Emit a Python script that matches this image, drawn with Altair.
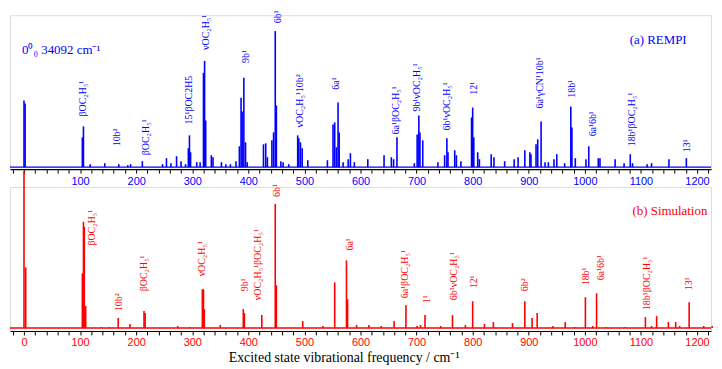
import altair as alt
import pandas as pd

# ---------------- data ----------------
# (a) REMPI spectrum: peak positions (cm-1) and intensities (arb. units)
rempi_pos = [0, 2, 104, 106, 118, 144, 169, 185, 190, 211, 247, 254, 262, 272, 280, 288,
             293, 295, 297, 308, 314, 320, 322, 324, 334, 337, 352, 360, 368, 378, 384,
             387, 389, 392, 395, 398, 427, 431, 434, 442, 445, 448, 450, 458, 462, 472,
             488, 490, 493, 496, 506, 541, 551, 554, 557, 560, 562, 569, 578, 582, 589,
             613, 642, 655, 659, 665, 696, 701, 704, 706, 711, 738, 750, 754, 756, 768,
             771, 779, 798, 800, 802, 809, 812, 833, 838, 857, 874, 881, 893, 902, 904,
             913, 916, 922, 929, 935, 945, 950, 964, 975, 977, 983, 1002, 1007, 1024,
             1027, 1054, 1070, 1081, 1085, 1111, 1119, 1150, 1181]
rempi_int = [67, 64, 30, 41, 3, 4, 3, 2, 3, 6, 3, 9, 4, 11, 6, 3,
             19, 32, 15, 5, 5, 95, 107, 47, 12, 10, 5, 3, 3, 6, 21,
             70, 56, 90, 25, 5, 23, 24, 10, 27, 35, 137, 62, 6, 5, 3,
             32, 29, 25, 19, 7, 7, 43, 45, 20, 65, 35, 5, 8, 14, 5,
             8, 12, 10, 8, 30, 4, 33, 52, 35, 27, 5, 12, 29, 15, 17,
             12, 6, 50, 60, 30, 15, 8, 13, 10, 6, 8, 10, 17, 15, 13,
             23, 28, 46, 5, 5, 8, 13, 4, 61, 40, 9, 8, 21, 9,
             9, 8, 4, 13, 4, 3, 4, 8, 9]

# (b) Simulated spectrum
sim_pos = [0, 3, 104, 106, 107.5, 110, 138, 152, 168, 189, 214, 216, 274, 296, 318, 320,
           321.5, 350, 391, 393, 424, 448, 450, 497, 533, 554, 575, 577, 593, 615, 637,
           660, 681, 701, 707, 715, 743, 764, 787, 800, 821, 837, 871, 893, 906, 915,
           943, 965, 982, 1001, 1014, 1021, 1038, 1072, 1108, 1119, 1128, 1149, 1162,
           1169, 1186, 1212, 1227]
sim_int = [158, 61, 55, 107, 102, 22, 1, 1, 10, 4, 17, 15, 2, 1, 39, 39,
           19, 3, 19, 15, 13, 125, 43, 7, 2, 46, 68, 29, 3, 3, 2,
           7, 23, 2, 3, 13, 2, 13, 3, 27, 4, 6, 5, 27, 10, 15,
           2, 6, 1, 31, 2, 35, 1, 1, 11, 2, 12, 6, 6,
           2, 26, 2, 2]

# peak assignments (text, position, height of the label's lower end)
rempi_lab_text = ["βOC₂H₅¹", "10b²", "βOC₂H₅¹", "15¹βOC2H5", "νOC₂H₅¹", "9b¹", "6b¹",
                  "νOC₂H₅¹10b²", "6a¹", "6a¹βOC₂H₅¹", "9b¹νOC₂H₅¹", "6b¹νOC₂H₅¹", "12¹",
                  "6a¹γCN¹10b¹", "18b¹", "6a¹6b¹", "18b¹βOC₂H₅¹", "13¹"]
rempi_lab_x = [106, 166, 218, 294, 324, 396, 453, 492, 557, 663, 701, 754, 802,
               920, 977, 1014, 1085, 1183]
rempi_lab_y = [51, 21, 12, 43, 118, 105, 145, 40, 78, 33, 56, 37, 73,
               59, 70, 31, 21, 15]

sim_lab_text = ["βOC₂H₅¹", "10b²", "βOC₂H₅¹", "νOC₂H₅¹", "9b¹", "νOC₂H₅¹βOC₂H₅¹", "6b¹",
                "6a¹", "6a¹βOC₂H₅¹", "1¹", "6b¹νOC₂H₅¹", "12¹", "6b²", "18b¹", "6a¹6b¹",
                "18b¹βOC₂H₅¹", "13¹"]
sim_lab_x = [122, 169, 214, 318, 394, 418, 451, 582, 679, 718, 766, 803, 893,
             1002, 1029, 1111, 1186]
sim_lab_y = [83, 17, 37, 52, 37, 28, 132, 78, 30, 25, 28, 40, 37, 43, 48, 18, 38]

# panel captions
rempi_cap_text = ["0⁰₀ 34092 cm⁻¹", "(a) REMPI"]
rempi_cap_x = [-3.5, 1080]
rempi_cap_y = [118, 128]
sim_cap_text = ["(b) Simulation"]
sim_cap_x = [1085]
sim_cap_y = [118]

# axis ticks (every 20 cm-1, labelled every 100 cm-1)
TICKS = list(range(-20, 1221, 20))
X_DOMAIN = [-25, 1225]
W = 706


def panel(pos, inten, lab_text, lab_x, lab_y, cap_text, cap_x, cap_y,
          color, height, y_domain, label_expr, title):
    peaks = pd.DataFrame({"x": pos, "y": inten, "y0": [0] * len(pos)})
    base = pd.DataFrame({"x": [X_DOMAIN[0]], "x2": [X_DOMAIN[1]], "y": [0]})
    labs = pd.DataFrame({"x": lab_x, "y": lab_y, "t": lab_text})
    caps = pd.DataFrame({"x": cap_x, "y": cap_y, "t": cap_text})

    xs = alt.Scale(domain=X_DOMAIN, nice=False, zero=False)
    ys = alt.Scale(domain=y_domain, nice=False, zero=False)

    axis_kw = dict(values=TICKS, labelExpr=label_expr, grid=False,
                   labelOverlap=False, labelColor=color)
    if title:
        axis_kw.update(title=title)
    else:
        axis_kw.update(title="")
    ax = alt.Axis(**axis_kw)
    X = alt.X("x:Q", scale=xs, axis=ax)
    Y = alt.Y("y:Q", scale=ys, axis=None)

    base_l = alt.Chart(base).mark_rule(color=color, strokeWidth=1.3).encode(
        x=X, x2="x2:Q", y=Y)
    peak_l = alt.Chart(peaks).mark_rule(color=color, strokeWidth=1.6).encode(
        x=X, y=Y, y2="y0:Q")
    lab_l = alt.Chart(labs).mark_text(angle=270, align="left", baseline="middle",
                                      font="Liberation Serif", fontSize=10,
                                      color=color).encode(x=X, y=Y, text="t:N")
    cap_l = alt.Chart(caps).mark_text(align="left", baseline="middle",
                                      font="Liberation Serif", fontSize=13,
                                      color=color).encode(x=X, y=Y, text="t:N")
    return alt.layer(base_l, peak_l, lab_l, cap_l).properties(width=W, height=height)


top = panel(rempi_pos, rempi_int, rempi_lab_text, rempi_lab_x, rempi_lab_y,
            rempi_cap_text, rempi_cap_x, rempi_cap_y, "#0000ff", 155, [-2, 153],
            "(datum.value % 100 == 0 && datum.value > 0) ? format(datum.value, 'd') : ''",
            None)
bottom = panel(sim_pos, sim_int, sim_lab_text, sim_lab_x, sim_lab_y,
               sim_cap_text, sim_cap_x, sim_cap_y, "#ff0000", 145, [-3, 142],
               "(datum.value % 100 == 0 && datum.value >= 0) ? format(datum.value, 'd') : ''",
               "Excited state vibrational frequency / cm⁻¹")

chart = (
    alt.vconcat(top, bottom, spacing=18, bounds="flush")
    .properties(padding=0)
    .configure_view(stroke=None)
    .configure(background="white")
    .configure_axisX(
        labelOverlap=False, labelFlush=False, domainColor="black", domainWidth=1.2,
        tickColor="black", tickSize=4, tickWidth=1, labelFont="Liberation Sans",
        labelFontSize=11, labelPadding=2, titleFont="Liberation Serif",
        titleFontSize=14, titleFontWeight="normal", titleColor="black", titleX=336,
        titleY=31, titleAlign="center", titleBaseline="alphabetic")
)

chart.save("out.html", embed_options={"renderer": "svg", "actions": False})
